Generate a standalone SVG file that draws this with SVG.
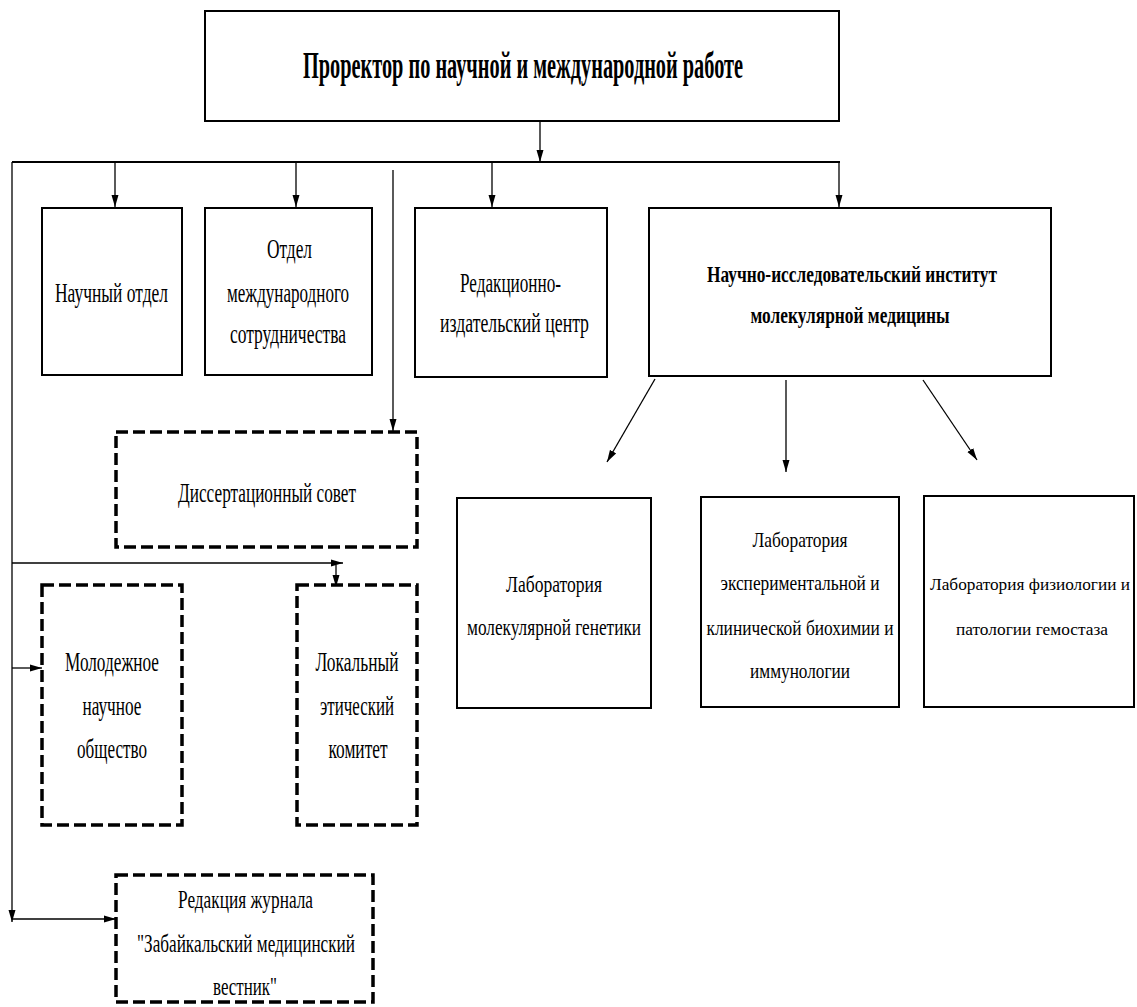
<svg xmlns="http://www.w3.org/2000/svg" width="1137" height="1007" viewBox="0 0 1137 1007">
<style>
.box{fill:#fff;stroke:#000;stroke-width:2}
.dbox{fill:#fff;stroke:#000;stroke-width:3.5;stroke-dasharray:12 5}
.t{font-family:"Liberation Serif","Times New Roman",serif;font-size:28px;text-anchor:middle;fill:#000}
.s{font-size:26px}
.m{font-size:22px}
.n{font-size:17.5px}
.b{font-weight:bold}
.c line{stroke:#000;stroke-width:1.3}
.c line.bus{stroke-width:2}
</style>
<defs>
<marker id="ah" markerUnits="userSpaceOnUse" markerWidth="13" markerHeight="8" refX="12" refY="4" orient="auto">
<path d="M0,0.5 L12,4 L0,7.5 z" fill="#000"/>
</marker>
</defs>
<rect width="1137" height="1007" fill="#fff"/>

<g id="connectors" class="c">
<line x1="540" y1="121" x2="540" y2="162" marker-end="url(#ah)"/>
<line class="bus" x1="12" y1="162" x2="840" y2="162"/>
<line x1="12" y1="162" x2="12" y2="922" marker-end="url(#ah)"/>
<line x1="115" y1="162" x2="115" y2="207" marker-end="url(#ah)"/>
<line x1="296" y1="163" x2="296" y2="207" marker-end="url(#ah)"/>
<line x1="393" y1="170" x2="393" y2="431" marker-end="url(#ah)"/>
<line x1="492" y1="162" x2="492" y2="207" marker-end="url(#ah)"/>
<line x1="839" y1="162" x2="839" y2="207" marker-end="url(#ah)"/>
<line x1="655" y1="379" x2="607" y2="462" marker-end="url(#ah)"/>
<line x1="786" y1="380" x2="786" y2="472" marker-end="url(#ah)"/>
<line x1="923" y1="380" x2="977" y2="460" marker-end="url(#ah)"/>
<line x1="12" y1="563" x2="343" y2="563" marker-end="url(#ah)"/>
<line x1="336" y1="565" x2="336" y2="587" marker-end="url(#ah)"/>
<line x1="12" y1="668" x2="42" y2="668" marker-end="url(#ah)"/>
<line x1="12" y1="919" x2="116" y2="919" marker-end="url(#ah)"/>
</g>

<g id="prorector">
<rect class="box" x="205" y="11" width="634" height="110"/>
<text class="t b" style="font-size:38px" x="523" y="78" textLength="440" lengthAdjust="spacingAndGlyphs">Проректор по научной и международной работе</text>
</g>

<g id="nauchny-otdel">
<rect class="box" x="42" y="208" width="140" height="167"/>
<text class="t" x="111.5" y="302" textLength="113" lengthAdjust="spacingAndGlyphs">Научный отдел</text>
</g>

<g id="otdel-mezhdunarodnogo">
<rect class="box" x="205" y="208" width="167" height="167"/>
<text class="t" x="289.5" y="258" textLength="45" lengthAdjust="spacingAndGlyphs">Отдел</text>
<text class="t" x="288" y="302" textLength="122" lengthAdjust="spacingAndGlyphs">международного</text>
<text class="t" x="288" y="343" textLength="116" lengthAdjust="spacingAndGlyphs">сотрудничества</text>
</g>

<g id="redakcionno-izdatelsky">
<rect class="box" x="415" y="208" width="192" height="169"/>
<text class="t" x="510.5" y="292" textLength="101" lengthAdjust="spacingAndGlyphs">Редакционно-</text>
<text class="t" x="514.5" y="332" textLength="149" lengthAdjust="spacingAndGlyphs">издательский центр</text>
</g>

<g id="nii">
<rect class="box" x="649" y="208" width="402" height="168"/>
<text class="t b" style="font-size:24px" x="852" y="282" textLength="290" lengthAdjust="spacingAndGlyphs">Научно-исследовательский институт</text>
<text class="t b" style="font-size:24px" x="850" y="323" textLength="199" lengthAdjust="spacingAndGlyphs">молекулярной медицины</text>
</g>

<g id="dissovet">
<rect class="dbox" x="116" y="432" width="301" height="115"/>
<text class="t" x="267" y="502" textLength="178" lengthAdjust="spacingAndGlyphs">Диссертационный совет</text>
</g>

<g id="molodezhnoe">
<rect class="dbox" x="42" y="585" width="140" height="240"/>
<text class="t" x="112" y="671" textLength="94" lengthAdjust="spacingAndGlyphs">Молодежное</text>
<text class="t" x="112" y="715" textLength="59" lengthAdjust="spacingAndGlyphs">научное</text>
<text class="t" x="112" y="758" textLength="70" lengthAdjust="spacingAndGlyphs">общество</text>
</g>

<g id="lokalny-komitet">
<rect class="dbox" x="297" y="585" width="120" height="240"/>
<text class="t" x="357" y="671" textLength="83" lengthAdjust="spacingAndGlyphs">Локальный</text>
<text class="t" x="357" y="715" textLength="74" lengthAdjust="spacingAndGlyphs">этический</text>
<text class="t" x="358" y="758" textLength="59" lengthAdjust="spacingAndGlyphs">комитет</text>
</g>

<g id="zhurnal">
<rect class="dbox" x="116" y="875" width="257" height="127"/>
<text class="t s" x="245.5" y="908" textLength="135" lengthAdjust="spacingAndGlyphs">Редакция журнала</text>
<text class="t s" x="246" y="952" textLength="218" lengthAdjust="spacingAndGlyphs">"Забайкальский медицинский</text>
<text class="t s" x="245" y="995" textLength="64" lengthAdjust="spacingAndGlyphs">вестник"</text>
</g>

<g id="lab-genetiki">
<rect class="box" x="457" y="498" width="194" height="210"/>
<text class="t" style="font-size:24px" x="554" y="592" textLength="96" lengthAdjust="spacingAndGlyphs">Лаборатория</text>
<text class="t" style="font-size:24px" x="554" y="635" textLength="174" lengthAdjust="spacingAndGlyphs">молекулярной генетики</text>
</g>

<g id="lab-biohimii">
<rect class="box" x="701" y="497" width="198" height="210"/>
<text class="t m" x="800" y="547" textLength="95" lengthAdjust="spacingAndGlyphs">Лаборатория</text>
<text class="t m" x="800" y="590" textLength="159" lengthAdjust="spacingAndGlyphs">экспериментальной и</text>
<text class="t m" x="800" y="635" textLength="187" lengthAdjust="spacingAndGlyphs">клинической биохимии и</text>
<text class="t m" x="800" y="678" textLength="100" lengthAdjust="spacingAndGlyphs">иммунологии</text>
</g>

<g id="lab-gemostaza">
<rect class="box" x="924" y="496" width="210" height="211"/>
<text class="t n" x="1030" y="590" textLength="200" lengthAdjust="spacingAndGlyphs">Лаборатория физиологии и</text>
<text class="t n" x="1032" y="635" textLength="152" lengthAdjust="spacingAndGlyphs">патологии гемостаза</text>
</g>
</svg>
